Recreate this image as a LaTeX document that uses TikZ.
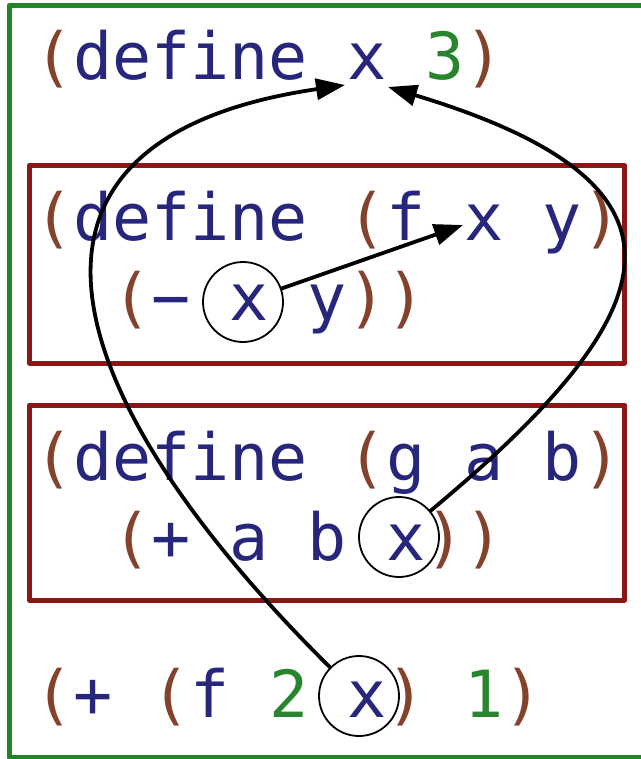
\documentclass[tikz,border=0pt]{standalone}
\usepackage{fontspec}
\setmonofont{DejaVu Sans Mono}
\usepackage{xcolor}
\usetikzlibrary{arrows.meta,positioning,calc}

\definecolor{parenc}{RGB}{132,66,44}
\definecolor{symc}{RGB}{38,38,125}
\definecolor{numc}{RGB}{40,132,45}
\definecolor{boxred}{RGB}{140,22,22}
\definecolor{framegreen}{RGB}{30,135,35}

\newcommand{\pc}[1]{\textcolor{parenc}{#1}}
\newcommand{\sy}[1]{\textcolor{symc}{#1}}
\newcommand{\nm}[1]{\textcolor{numc}{#1}}

\begin{document}
\begin{tikzpicture}[x=1pt,y=-1pt,line join=round,line cap=round,
    code/.style={anchor=base west,inner sep=0pt,font=\ttfamily\fontsize{65}{70}\selectfont},
    defbox/.style={draw=boxred,line width=5pt},
    ring/.style={draw,circle,line width=1.8pt,minimum size=80pt,inner sep=0pt},
    link/.style={line width=3.8pt,-{Triangle[length=29pt,width=21pt]}}]
      \useasboundingbox (0,0) rectangle (640,759);
      % outer frame and the two define boxes
      \draw[framegreen,line width=5pt] (9,5.5) rectangle (680,757.5);
      \draw[defbox] (29.5,165.5) rectangle (624.5,363);
      \draw[defbox] (29.5,405) rectangle (624.5,600);
      % code lines
      \node[code] (defx) at (34,80) {\pc{(}\sy{define} \sy{x} \nm{3}\pc{)}};
      \node[code] (fhead) at (34,240) {\pc{(}\sy{define} \pc{(}\sy{f} \sy{x} \sy{y}\pc{)}};
      \node[code] (fbody) at (112,320) {\pc{(}\sy{−} \sy{x} \sy{y}\pc{))}};
      \node[code] (ghead) at (34,480) {\pc{(}\sy{define} \pc{(}\sy{g} \sy{a} \sy{b}\pc{)}};
      \node[code] (gbody) at (112,560) {\pc{(}\sy{+} \sy{a} \sy{b} \sy{x}\pc{))}};
      \node[code] (call) at (34,717) {\pc{(}\sy{+} \pc{(}\sy{f} \nm{2} \sy{x}\pc{)} \nm{1}\pc{)}};
      % circled uses of x
      \node[ring] (ringf) at (243,302) {};
      \node[ring] (ringg) at (399,537) {};
      \node[ring] (ringcall) at (359,696) {};
      % where the arrows point
      \coordinate (defxl) at (345,85);
      \coordinate (defxr) at (388,87);
      \coordinate (fparx) at (463,225);
      \draw[link] (ringf) -- (fparx);
      \draw[link] (ringcall) .. controls (60,400) and (-30,140) .. (defxl);
      \draw[link] (ringg) .. controls (672,310) and (712,185) .. (defxr);
\end{tikzpicture}
\end{document}
